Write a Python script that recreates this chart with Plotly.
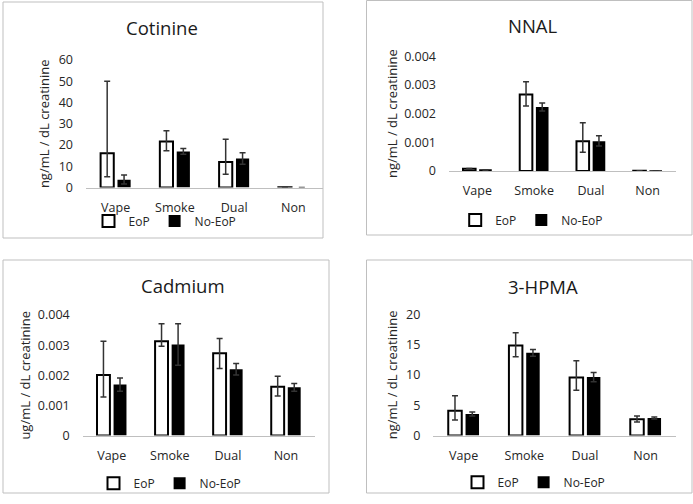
import plotly.graph_objects as go

categories = ["Vape", "Smoke", "Dual", "Non"]
series_names = ["EoP", "No-EoP"]

# Cotinine
cot_eop = [16.1, 21.6, 12.0, 0.1]
cot_eop_plus = [33.9, 5.1, 10.7, 0.0]
cot_eop_minus = [11.0, 4.3, 5.8, 0.0]
cot_no = [3.7, 17.0, 13.7, 0.0]
cot_no_plus = [2.2, 1.3, 2.7, 0.0]
cot_no_minus = [2.1, 1.3, 2.7, 0.0]

# NNAL
nnal_eop = [0.00008, 0.00267, 0.00104, 0.00001]
nnal_eop_plus = [0.00001, 0.00044, 0.00064, 0.0]
nnal_eop_minus = [0.00001, 0.00040, 0.00039, 0.0]
nnal_no = [0.00003, 0.00223, 0.00104, 0.00001]
nnal_no_plus = [0.000005, 0.00014, 0.00019, 0.0]
nnal_no_minus = [0.000005, 0.00014, 0.00017, 0.0]

# Cadmium
cad_eop = [0.00201, 0.00313, 0.00273, 0.00162]
cad_eop_plus = [0.00112, 0.00058, 0.00049, 0.00035]
cad_eop_minus = [0.00073, 0.00017, 0.00051, 0.00031]
cad_no = [0.00169, 0.00302, 0.00220, 0.00160]
cad_no_plus = [0.00022, 0.00069, 0.00019, 0.00013]
cad_no_minus = [0.00022, 0.00069, 0.00019, 0.00013]

# 3-HPMA
hpma_eop = [4.09, 14.86, 9.59, 2.67]
hpma_eop_plus = [2.47, 2.08, 2.73, 0.54]
hpma_eop_minus = [1.54, 1.88, 2.14, 0.45]
hpma_no = [3.54, 13.64, 9.64, 2.88]
hpma_no_plus = [0.33, 0.56, 0.76, 0.17]
hpma_no_minus = [0.33, 0.56, 0.76, 0.17]

titles = ["Cotinine", "NNAL", "Cadmium", "3-HPMA"]
y_titles = ["ng/mL / dL creatinine", "ng/mL / dL creatinine",
            "ug/mL / dL creatinine", "ng/mL / dL creatinine"]
y_ranges = [[0, 60], [0, 0.004], [0, 0.004], [0, 20]]
y_dticks = [10, 0.001, 0.001, 5]

W, H = 693, 504
FONT = "Open Sans, Noto Sans, sans-serif"
TXT = "#262626"

panels = [
    dict(eop=cot_eop, ep=cot_eop_plus, em=cot_eop_minus, no=cot_no, np_=cot_no_plus, nm=cot_no_minus,
         xd=(86, 323), yd=(187.5, 60), box=(3, 2, 323, 238), title=(162, 27), leg=(165, 221), ystand=6),
    dict(eop=nnal_eop, ep=nnal_eop_plus, em=nnal_eop_minus, no=nnal_no, np_=nnal_no_plus, nm=nnal_no_minus,
         xd=(449, 676), yd=(171, 56.3), box=(366.5, 0.5, 692, 235), title=(532.7, 25), leg=(531.7, 220), ystand=3),
    dict(eop=cad_eop, ep=cad_eop_plus, em=cad_eop_minus, no=cad_no, np_=cad_no_plus, nm=cad_no_minus,
         xd=(82.7, 315), yd=(435.5, 315), box=(3, 260, 329, 493), title=(182.7, 285), leg=(170, 483.3), ystand=4),
    dict(eop=hpma_eop, ep=hpma_eop_plus, em=hpma_eop_minus, no=hpma_no, np_=hpma_no_plus, nm=hpma_no_minus,
         xd=(433.3, 676), yd=(435.5, 314.3), box=(366.5, 260, 692, 493), title=(542.7, 286.7), leg=(534, 482.3), ystand=5),
]

fig = go.Figure()
layout = dict(width=W, height=H, margin=dict(l=0, r=0, t=0, b=0),
              paper_bgcolor="white", plot_bgcolor="white",
              barmode="group", bargap=0.43, bargroupgap=0.22,
              font=dict(family=FONT, size=12, color=TXT),
              showlegend=True, shapes=[], annotations=[])

for i, p in enumerate(panels):
    n = i + 1
    xa = "x" if n == 1 else f"x{n}"
    ya = "y" if n == 1 else f"y{n}"
    lg = "legend" if n == 1 else f"legend{n}"
    fig.add_trace(go.Bar(
        x=categories, y=p["eop"], name=series_names[0], xaxis=xa, yaxis=ya, legend=lg,
        marker=dict(color="white", line=dict(color="black", width=2)),
        error_y=dict(type="data", symmetric=False, array=p["ep"], arrayminus=p["em"],
                     color="#333333", thickness=1.5, width=3),
    ))
    fig.add_trace(go.Bar(
        x=categories, y=p["no"], name=series_names[1], xaxis=xa, yaxis=ya, legend=lg,
        marker=dict(color="black", line=dict(color="black", width=0)),
        error_y=dict(type="data", symmetric=False, array=p["np_"], arrayminus=p["nm"],
                     color="#333333", thickness=1.5, width=3),
    ))
    xk = "xaxis" if n == 1 else f"xaxis{n}"
    yk = "yaxis" if n == 1 else f"yaxis{n}"
    layout[xk] = dict(domain=[p["xd"][0] / W, p["xd"][1] / W], anchor=ya,
                      showline=True, linecolor="#BFBFBF", linewidth=1.3,
                      showgrid=False, zeroline=False, ticks="",
                      ticklabelstandoff=8, tickfont=dict(size=12.5, color=TXT),
                      fixedrange=True, automargin=False)
    layout[yk] = dict(domain=[1 - p["yd"][0] / H, 1 - p["yd"][1] / H], anchor=xa,
                      range=y_ranges[i], dtick=y_dticks[i], tick0=0,
                      showline=False, showgrid=False, zeroline=False, ticks="",
                      ticklabelstandoff=12, tickfont=dict(size=12.5, color=TXT),
                      title=dict(text=y_titles[i], font=dict(size=13, color=TXT), standoff=p["ystand"]),
                      fixedrange=True, automargin=False)
    layout[lg] = dict(orientation="h", xanchor="center", yanchor="middle",
                      x=p["leg"][0] / W, y=1 - p["leg"][1] / H,
                      font=dict(size=12, color=TXT), bgcolor="rgba(0,0,0,0)",
                      itemwidth=30, traceorder="normal", tracegroupgap=0)
    bx = p["box"]
    layout["shapes"].append(dict(type="rect", xref="paper", yref="paper",
                                 x0=bx[0] / W, x1=bx[2] / W, y0=1 - bx[3] / H, y1=1 - bx[1] / H,
                                 line=dict(color="#BFBFBF", width=1), layer="below"))
    layout["annotations"].append(dict(text=titles[i], xref="paper", yref="paper",
                                      x=p["title"][0] / W, y=1 - p["title"][1] / H,
                                      xanchor="center", yanchor="middle", showarrow=False,
                                      font=dict(size=18.5, color="#1a1a1a")))

fig.update_layout(**layout)
fig.write_html("out.html")
